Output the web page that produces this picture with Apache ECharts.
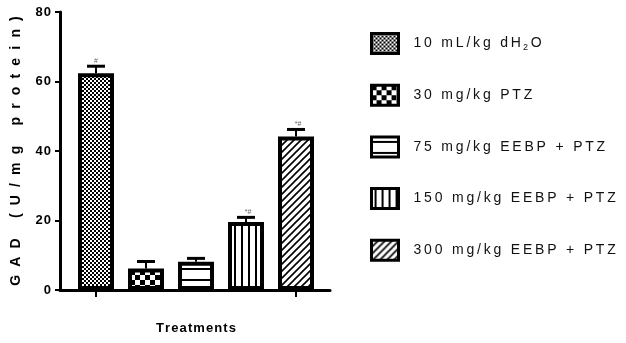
<!DOCTYPE html>
<html>
<head>
<meta charset="utf-8">
<script src="https://cdn.jsdelivr.net/npm/echarts@6/dist/echarts.min.js"></script>
<style>
  html, body { margin: 0; padding: 0; background: #fff; }
  #chart { width: 626px; height: 343px; }
</style>
</head>
<body>
<div id="chart"></div>
<script>
// Treatment groups and GAD activity (mean, SEM)
const groups = ['10 mL/kg dH2O', '30 mg/kg PTZ', '75 mg/kg EEBP + PTZ', '150 mg/kg EEBP + PTZ', '300 mg/kg EEBP + PTZ'];
const gadMean = [62.4, 6.2, 8.1, 19.6, 44.2];
const gadSem = [2.0, 2.0, 1.0, 1.3, 2.0];
const marks = ['#', '', '', '*#', '*#'];
const yTicks = [0, 20, 40, 60, 80];

const FONT = "'Liberation Sans Narrow', 'Liberation Sans', Arial, sans-serif";
const spaced = (s, gap) => s.split('').join(gap);

// Fill patterns drawn on tiny canvases
function pattern(w, h, draw) {
  const c = document.createElement('canvas');
  c.width = w; c.height = h;
  const ctx = c.getContext('2d');
  ctx.fillStyle = '#fff';
  ctx.fillRect(0, 0, w, h);
  ctx.fillStyle = '#000';
  ctx.strokeStyle = '#000';
  draw(ctx, w, h);
  return { image: c, repeat: 'repeat' };
}
const fills = [
  pattern(4, 4, (ctx) => { ctx.fillRect(0, 0, 2, 2); ctx.fillRect(2, 2, 2, 2); }),
  pattern(10, 10, (ctx) => { ctx.fillRect(0, 0, 5, 5); ctx.fillRect(5, 5, 5, 5); }),
  pattern(10, 11, (ctx) => { ctx.fillRect(0, 4, 10, 2); }),
  pattern(7, 10, (ctx) => { ctx.fillRect(3, 0, 2, 10); }),
  pattern(7, 7, (ctx) => {
    ctx.lineWidth = 1.6;
    ctx.beginPath();
    ctx.moveTo(-1, 8); ctx.lineTo(8, -1);
    ctx.moveTo(-4, 4); ctx.lineTo(4, -4);
    ctx.moveTo(3, 11); ctx.lineTo(11, 3);
    ctx.stroke();
  })
];

const chart = echarts.init(document.getElementById('chart'), null, { renderer: 'canvas' });

const barSeries = groups.map((name, k) => ({
  name: name,
  type: 'bar',
  xAxisIndex: 0,
  yAxisIndex: 0,
  barWidth: 36,
  barGap: '-100%',
  data: gadMean.map((v, i) => (i === k ? v : '-')),
  itemStyle: { color: fills[k], borderColor: '#000', borderWidth: 4 },
  z: 2
}));

const errorSeries = {
  type: 'custom',
  xAxisIndex: 0,
  yAxisIndex: 0,
  z: 3,
  data: gadMean.map((v, i) => [i, v, gadSem[i]]),
  renderItem: (params, api) => {
    const i = api.value(0);
    const base = api.coord([i, api.value(1)]);
    const top = api.coord([i, api.value(1) + api.value(2)]);
    return {
      type: 'group',
      children: [
        { type: 'line', shape: { x1: base[0], y1: base[1], x2: top[0], y2: top[1] }, style: { stroke: '#000', lineWidth: 2 } },
        { type: 'line', shape: { x1: top[0] - 9, y1: top[1], x2: top[0] + 9, y2: top[1] }, style: { stroke: '#000', lineWidth: 3 } },
        { type: 'text', x: top[0] + (marks[i].length > 1 ? 2 : 0), y: top[1] - 2,
          style: { text: marks[i], fontSize: 7, fontFamily: FONT, fill: '#666', align: 'center', verticalAlign: 'bottom' } }
      ]
    };
  }
};

chart.setOption({
  animation: false,
  backgroundColor: '#fff',
  grid: [
    { left: 71, width: 250, top: 12, bottom: 53 },
    { left: 60, width: 270, top: 12, bottom: 53 }
  ],
  xAxis: [
    {
      type: 'category', gridIndex: 0, data: groups,
      axisLine: { show: false },
      axisTick: { show: true, alignWithLabel: true, length: 7, lineStyle: { color: '#000', width: 2 } },
      axisLabel: { show: false },
      name: spaced('Treatments', '\u200A'), nameLocation: 'middle', nameGap: 32,
      nameTextStyle: { fontFamily: FONT, fontWeight: 'bold', fontSize: 13, color: '#000' }
    },
    {
      type: 'value', gridIndex: 1, min: 0, max: 1,
      axisLine: { show: true, lineStyle: { color: '#000', width: 3 } },
      axisTick: { show: false }, axisLabel: { show: false }, splitLine: { show: false }
    }
  ],
  yAxis: [
    { type: 'value', gridIndex: 0, min: 0, max: 80, interval: 20, show: false, splitLine: { show: false } },
    {
      type: 'value', gridIndex: 1, min: yTicks[0], max: yTicks[yTicks.length - 1], interval: 20,
      axisLine: { show: true, lineStyle: { color: '#000', width: 3 } },
      axisTick: { show: true, length: 5, lineStyle: { color: '#000', width: 2 } },
      axisLabel: { margin: 9, fontFamily: FONT, fontWeight: 'bold', fontSize: 13, color: '#000',
                   formatter: (v) => spaced(String(v), '\u200A') },
      splitLine: { show: false },
      name: spaced('GAD (U/mg protein)', '\u2002\u200A'), nameLocation: 'middle', nameGap: 37, nameRotate: 90,
      nameTextStyle: { fontFamily: FONT, fontWeight: 'bold', fontSize: 14, color: '#000' }
    }
  ],
  legend: {
    orient: 'vertical', left: 370, top: 32, padding: 0,
    itemWidth: 27, itemHeight: 20, itemGap: 28.7,
    icon: 'rect',
    itemStyle: { borderColor: '#000', borderWidth: 3 },
    data: groups,
    formatter: (name) => {
      if (name.endsWith('dH2O')) {
        return '{t|' + spaced('10 mL/kg dH', '\u2009') + '}{s|2}{t|\u2009O}';
      }
      return '{t|' + spaced(name, '\u2009') + '}';
    },
    textStyle: {
      fontFamily: FONT, fontSize: 14, color: '#111', padding: [0, 0, 0, 10],
      rich: {
        t: { fontFamily: FONT, fontSize: 14, color: '#111', lineHeight: 18 },
        s: { fontFamily: FONT, fontSize: 9, color: '#111', lineHeight: 18, padding: [8, 0, 0, 2] }
      }
    }
  },
  series: barSeries.concat([errorSeries])
});
</script>
</body>
</html>
